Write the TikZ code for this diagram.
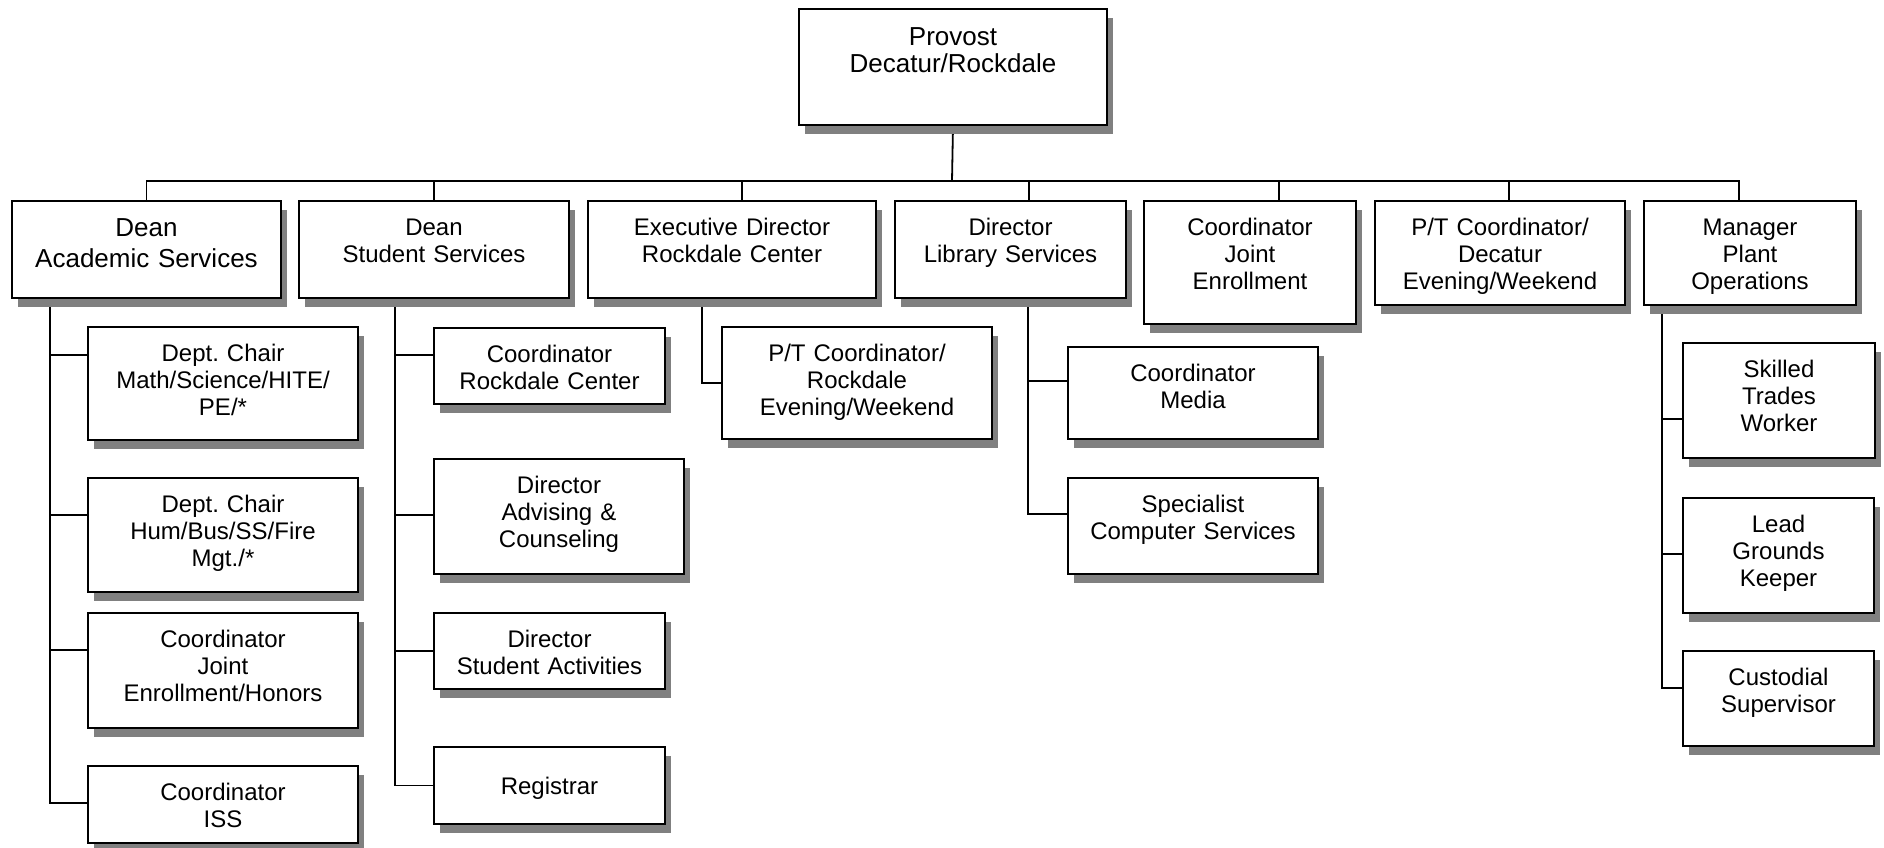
\documentclass[tikz,border=0pt]{standalone}
\usepackage{fontspec}
\setmainfont{Liberation Sans}
\usetikzlibrary{shadows,backgrounds}
\frenchspacing

\tikzset{
  orgbox/.style={draw, line width=1pt, fill=white, anchor=north west,
    inner xsep=0pt, inner ysep=0pt, align=center,
    font=\fontsize{12}{13.5}\selectfont, text height=17pt,
    drop shadow={shadow xshift=3pt, shadow yshift=-4.5pt, fill=black!50, opacity=1}},
  topbox/.style={orgbox, font=\fontsize{13}{13.75}\selectfont, text height=18pt},
  link/.style={line width=0.9pt},
}

\begin{document}
\begin{tikzpicture}[x=0.5pt, y=-0.5pt]
    \useasboundingbox (0,0) rectangle (1884,847);

    % Top
    \node[topbox, text width=154pt, text depth=40pt] (provost) at (798,8) {Provost\\Decatur/Rockdale};

    % Level one
    \node[topbox, font=\fontsize{13}{15.5}\selectfont, text height=17.5pt, text width=134.5pt, text depth=31pt] (dacad) at (11,200) {Dean\\Academic Services};
    \node[orgbox, text width=135pt, text depth=31.5pt] (dstud) at (298,200) {Dean\\Student Services};
    \node[orgbox, text width=144pt, text depth=31.5pt] (exec) at (587,200) {Executive Director\\Rockdale Center};
    \node[orgbox, text width=115.5pt, text depth=31.5pt] (dlib) at (894,200) {Director\\Library Services};
    \node[orgbox, text width=106pt, text depth=44.5pt] (cjoint) at (1143,200) {Coordinator\\Joint\\Enrollment};
    \node[orgbox, text width=125pt, text depth=35pt] (ptdec) at (1374,200) {P/T Coordinator/\\Decatur\\Evening/Weekend};
    \node[orgbox, text width=106pt, text depth=35pt] (mplant) at (1643,200) {Manager\\Plant\\Operations};

    % Academic Services
    \node[orgbox, text width=135pt, text depth=39.5pt] (math) at (87,326) {Dept. Chair\\Math/Science/HITE/\\PE/*};
    \node[orgbox, text width=135pt, text depth=40pt] (hum) at (87,477) {Dept. Chair\\Hum/Bus/SS/Fire\\Mgt./*};
    \node[orgbox, text width=135pt, text depth=40.5pt] (jhon) at (87,612) {Coordinator\\Joint\\Enrollment/Honors};
    \node[orgbox, text width=135pt, text depth=21.5pt] (iss) at (87,765) {Coordinator\\ISS};

    % Student Services
    \node[orgbox, text width=115.5pt, text depth=21pt] (crc) at (433,327) {Coordinator\\Rockdale Center};
    \node[orgbox, text width=125pt, text depth=40.5pt] (adv) at (433,458) {Director\\Advising \&\\Counseling};
    \node[orgbox, text width=115.5pt, text depth=21pt] (act) at (433,612) {Director\\Student Activities};
    \node[orgbox, text width=115.5pt, text height=23.8pt, text depth=14.7pt] (reg) at (433,746) {Registrar};

    % Rockdale Center
    \node[orgbox, text width=135pt, text depth=39pt] (ptrock) at (721,326) {P/T Coordinator/\\Rockdale\\Evening/Weekend};

    % Library Services
    \node[orgbox, text width=125pt, text depth=29pt] (media) at (1067,346) {Coordinator\\Media};
    \node[orgbox, text width=125pt, text depth=31pt] (spec) at (1067,477) {Specialist\\Computer Services};

    % Plant Operations
    \node[orgbox, text width=96pt, text depth=40.5pt] (skill) at (1682,342) {Skilled\\Trades\\Worker};
    \node[orgbox, text width=95.5pt, text depth=40.5pt] (lead) at (1682,497) {Lead\\Grounds\\Keeper};
    \node[orgbox, text width=95.5pt, text depth=30.5pt] (cust) at (1682,650) {Custodial\\Supervisor};

    \coordinate (bus) at (952,181);
    \coordinate (acadtrunk) at (50,297);
    \coordinate (studtrunk) at (395,297);
    \coordinate (exectrunk) at (702,297);
    \coordinate (libtrunk) at (1028,297);
    \coordinate (planttrunk) at (1662,304);

    \begin{scope}[on background layer]
        % Bus
        \draw[link] (provost.south) -- (bus);
        \draw[link] (bus) -| (dacad.north);
        \draw[link] (bus) -| (dstud.north);
        \draw[link] (bus) -| ([xshift=5pt]exec.north);
        \draw[link] (bus) -| ([xshift=9.25pt]dlib.north);
        \draw[link] (bus) -| ([xshift=14.5pt]cjoint.north);
        \draw[link] (bus) -| ([xshift=4.5pt]ptdec.north);
        \draw[link] (bus) -| ([xshift=-5.5pt]mplant.north);

        % Trunks
        \draw[link] (acadtrunk) |- ([yshift=-14.5pt]math.north west);
        \draw[link] (acadtrunk) |- ([yshift=-19pt]hum.north west);
        \draw[link] (acadtrunk) |- ([yshift=-19pt]jhon.north west);
        \draw[link] (acadtrunk) |- ([yshift=-19pt]iss.north west);

        \draw[link] (studtrunk) |- ([yshift=-14pt]crc.north west);
        \draw[link] (studtrunk) |- ([yshift=-28.5pt]adv.north west);
        \draw[link] (studtrunk) |- (act.west);
        \draw[link] (studtrunk) |- (reg.west);

        \draw[link] (exectrunk) |- (ptrock.west);

        \draw[link] (libtrunk) |- ([yshift=-17.5pt]media.north west);
        \draw[link] (libtrunk) |- ([yshift=-18.5pt]spec.north west);

        \draw[link] (planttrunk) |- ([yshift=-38.5pt]skill.north west);
        \draw[link] (planttrunk) |- ([yshift=-28.5pt]lead.north west);
        \draw[link] (planttrunk) |- ([yshift=-19pt]cust.north west);
    \end{scope}
\end{tikzpicture}
\end{document}
